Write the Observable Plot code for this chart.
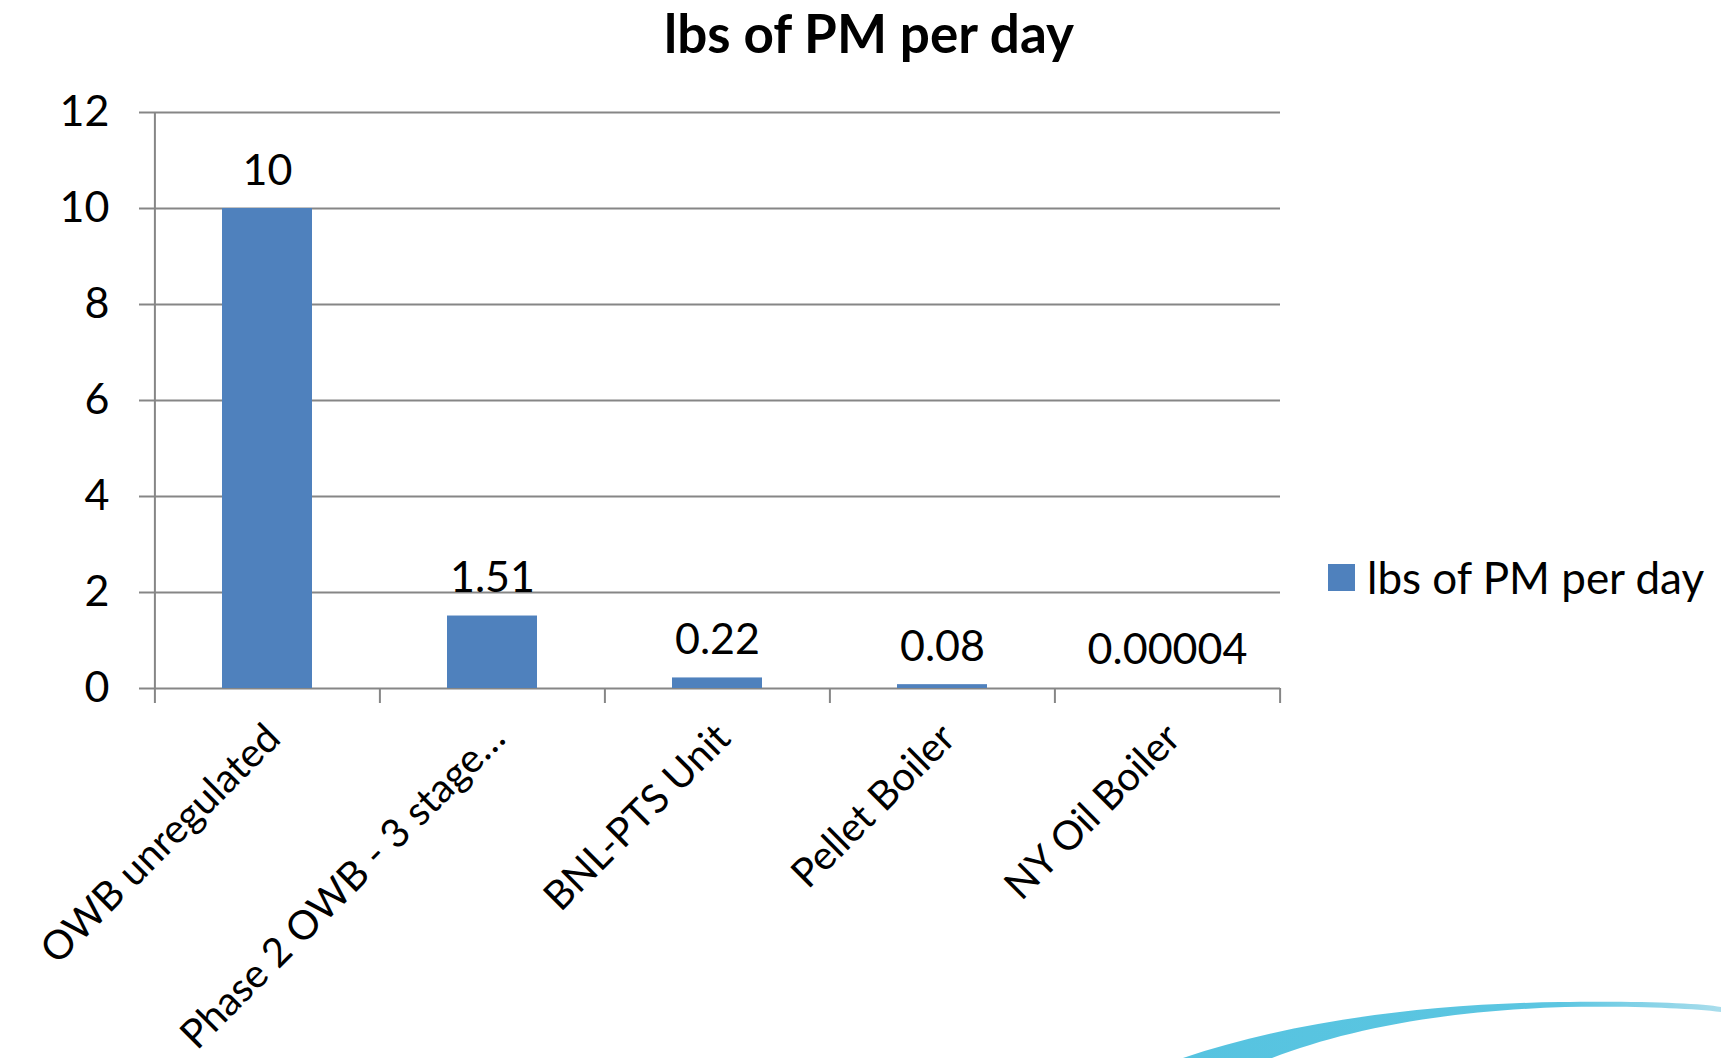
<!DOCTYPE html>
<html>
<head>
<meta charset="utf-8">
<script src="https://cdn.jsdelivr.net/npm/d3@7"></script>
<script src="https://cdn.jsdelivr.net/npm/@observablehq/plot@0.6"></script>
<style>
  html, body { margin: 0; padding: 0; background: #fff; }
  body { font-family: Lato, "Open Sans", sans-serif; color: #000; }
  #wrap { position: relative; width: 1721px; height: 1058px; overflow: hidden; background: #fff; }
  #title { position: absolute; top: 2px; left: 869px; transform: translateX(-50%); font-weight: bold; font-size: 53px; line-height: 62px; white-space: nowrap; }
  #chart { position: absolute; top: 80px; left: 0; }
  #legend { position: absolute; left: 1328px; top: 548px; display: flex; align-items: center; font-size: 44px; line-height: 58px; white-space: nowrap; }
  #legend .sw { width: 27px; height: 27px; margin-right: 12px; }
  #swoosh { position: absolute; left: 0; top: 0; pointer-events: none; }
</style>
</head>
<body>
<div id="wrap">
  <div id="title"></div>
  <div id="chart"></div>
  <div id="legend"></div>
  <svg id="swoosh" width="1721" height="1058">
    <defs>
      <linearGradient id="sg" x1="0" x2="1" y1="0" y2="0">
        <stop offset="0" stop-color="#56C3E0"/>
        <stop offset="0.7" stop-color="#5CC6E1"/>
        <stop offset="1" stop-color="#A9DDEC"/>
      </linearGradient>
    </defs>
    <path d="M1183,1058 C1290,1022 1420,1004 1560,1002 C1640,1001 1700,1003 1721,1007 L1721,1012 C1690,1008 1630,1006 1565,1007 C1440,1011 1345,1030 1272,1058 Z" fill="url(#sg)"/>
  </svg>
</div>
<script>
const titleText = "lbs of PM per day";
const seriesName = "lbs of PM per day";
const categories = ["OWB unregulated", "Phase 2 OWB - 3 stage…", "BNL-PTS Unit", "Pellet Boiler", "NY Oil Boiler"];
const values = [10, 1.51, 0.22, 0.08, 0.00004];
const valueLabels = ["10", "1.51", "0.22", "0.08", "0.00004"];
const yTicks = [0, 2, 4, 6, 8, 10, 12];

const barColor = "#4F81BD";
const gray = "#868686";

document.getElementById("title").textContent = titleText;
const legend = document.getElementById("legend");
legend.innerHTML = `<div class="sw" style="background:${barColor}"></div><span></span>`;
legend.querySelector("span").textContent = seriesName;

const data = categories.map((c, i) => ({category: c, value: values[i], label: valueLabels[i]}));

const W = 1721, H = 978, mL = 154, mR = 441, mT = 32, mB = 370;
const step = (W - mL - mR) / categories.length;
const fs = 43;

const chart = Plot.plot({
  width: W, height: H,
  marginLeft: mL, marginRight: mR, marginTop: mT, marginBottom: mB,
  style: {fontFamily: "Lato, 'Open Sans', sans-serif", fontSize: fs + "px", color: "#000", background: "transparent", overflow: "visible"},
  x: {domain: categories, paddingInner: 0.6, paddingOuter: 0.3, axis: null},
  y: {domain: [0, 12], axis: null},
  marks: [
    Plot.gridY(yTicks, {stroke: gray, strokeOpacity: 1, strokeWidth: 2}),
    Plot.axisY(yTicks, {label: null, tickSize: 15, tickPadding: 30, stroke: gray, strokeOpacity: 1, strokeWidth: 2, fill: "#000", fontSize: fs, tickFormat: d => String(d)}),
    Plot.ruleX([categories[0]], {x: d => d, y1: 0, y2: 12, dx: -step / 2, stroke: gray, strokeWidth: 2}),
    Plot.barY(data, {x: "category", y: "value", fill: barColor}),
    Plot.axisX(categories, {label: null, tickSize: 15, tickFormat: () => "", dx: -step / 2, stroke: gray, strokeOpacity: 1, strokeWidth: 2}),
    Plot.axisX([categories[categories.length - 1]], {label: null, tickSize: 15, tickFormat: () => "", dx: step / 2, stroke: gray, strokeOpacity: 1, strokeWidth: 2}),
    Plot.text(data, {x: "category", y: "value", text: "label", lineAnchor: "bottom", dy: -24, fontSize: fs, fill: "#000"}),
    Plot.text(categories, {x: d => d, frameAnchor: "bottom", text: d => d, rotate: -45, textAnchor: "end", lineAnchor: "middle", dx: 6, dy: 43, fontSize: 40, fill: "#000"})
  ]
});
document.getElementById("chart").appendChild(chart);
</script>
</body>
</html>
